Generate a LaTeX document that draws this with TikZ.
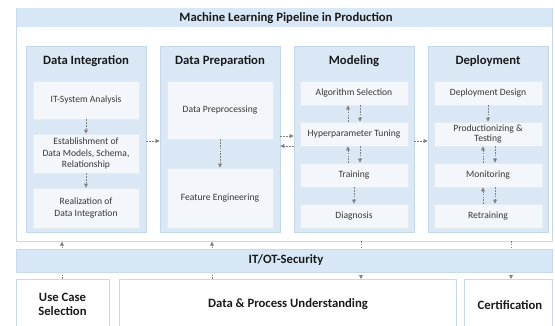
\documentclass[tikz,border=0pt]{standalone}
\usepackage{fontspec}
\setmainfont{Carlito}
\usetikzlibrary{arrows.meta}
\definecolor{bandfill}{HTML}{D8E7F5}
\definecolor{bandline}{HTML}{C6DAEE}
\definecolor{colfill}{HTML}{DAE8F5}
\definecolor{colline}{HTML}{C4D8EC}
\definecolor{cellfill}{HTML}{F3F6FA}
\definecolor{cellline}{HTML}{E2EAF3}
\definecolor{arrowgrey}{HTML}{808080}
\definecolor{headtext}{HTML}{1A1A1A}
\definecolor{celltext}{HTML}{383838}
\tikzset{
  box/.style={draw=bandline, line width=0.9pt, fill=white, inner sep=0pt},
  band/.style={draw=bandline, line width=0.6pt, fill=bandfill, inner sep=0pt},
  column/.style={draw=colline, line width=0.9pt, fill=colfill, inner sep=0pt, minimum width=120pt, minimum height=186pt},
  cell/.style={draw=cellline, line width=0.6pt, fill=cellfill, inner sep=1pt, align=center,
    font=\fontsize{9.6}{11.5}\selectfont, text=celltext},
  head/.style={font=\fontsize{12.7}{15}\selectfont\bfseries, text=headtext, align=center},
  flow/.style={draw=arrowgrey, line width=0.65pt, dash pattern=on 1.6pt off 1.2pt,
    -{Triangle[length=4pt,width=3.8pt]}},
  link/.style={draw=arrowgrey, line width=0.65pt, dash pattern=on 1.6pt off 1.2pt}
}
\begin{document}
\begin{tikzpicture}[x=1pt,y=-1pt]
\useasboundingbox (0,0) rectangle (555,325);

% outer frame with title strip
\node[box, minimum width=536pt, minimum height=233pt] (frame) at (284,124.5) {};
\node[band, draw=none, minimum width=535pt, minimum height=19pt] (titleband) at (284,17.5) {};
\node[head] (title) at (286,17.8) {Machine Learning Pipeline in Production};

% bottom boxes
\node[box, minimum width=93pt, minimum height=70pt, anchor=north] (usecase) at (62.5,279) {};
\node[box, minimum width=337pt, minimum height=70pt, anchor=north] (dataproc) at (287.5,279) {};
\node[box, minimum width=88pt, minimum height=70pt, anchor=north] (cert) at (508,279) {};
\node[head] at (62.5,304.5) {Use Case\\[-0.5pt]Selection};
\node[head] at (288,304.5) {Data \& Process Understanding};
\node[head] at (510,305) {Certification};

% links between the pipeline and the foundation boxes
\coordinate (ucTop) at (62,279);
\coordinate (ucUp) at (62,241.5);
\coordinate (dpTop) at (212,279);
\coordinate (dpUp) at (212,241.5);
\coordinate (moDown) at (361,241);
\coordinate (moBot) at (361,279);
\coordinate (deDown) at (511,241);
\coordinate (deBot) at (511,279);
\draw[flow] (ucTop) -- (ucUp);
\draw[flow] (dpTop) -- (dpUp);
\draw[flow] (moDown) -- (moBot);
\draw[flow] (deDown) -- (deBot);

% security band
\node[band, minimum width=536pt, minimum height=23pt] (security) at (284,260.5) {};
\node[head] at (286,260.5) {IT/OT-Security};

% phase columns
\node[column] (colDI) at (86,139) {};
\node[column] (colDP) at (220,139) {};
\node[column] (colMO) at (354,139) {};
\node[column] (colDE) at (488,139) {};
\node[head] at (86,61) {Data Integration};
\node[head] at (220,61) {Data Preparation};
\node[head] at (354,61) {Modeling};
\node[head] at (488,61) {Deployment};

% Data Integration
\node[cell, minimum width=106pt, minimum height=38pt] (itsys) at (86,100) {IT-System Analysis};
\node[cell, minimum width=106pt, minimum height=39pt] (estab) at (86,153.5) {Establishment of\\Data Models, Schema,\\Relationship};
\node[cell, minimum width=106pt, minimum height=40pt] (realiz) at (86,208) {Realization of\\Data Integration};

% Data Preparation
\node[cell, minimum width=106pt, minimum height=58pt] (prepro) at (220,110) {Data Preprocessing};
\node[cell, minimum width=106pt, minimum height=60pt] (feature) at (220,198) {Feature Engineering};

% Modeling
\node[cell, minimum width=108pt, minimum height=24pt] (algo) at (354,93) {Algorithm Selection};
\node[cell, minimum width=108pt, minimum height=24pt] (hyper) at (354,134) {Hyperparameter Tuning};
\node[cell, minimum width=108pt, minimum height=24pt] (train) at (354,175) {Training};
\node[cell, minimum width=108pt, minimum height=24pt] (diag) at (354,216) {Diagnosis};

% Deployment
\node[cell, minimum width=108pt, minimum height=24pt] (design) at (488,93) {Deployment Design};
\node[cell, minimum width=108pt, minimum height=24pt] (product) at (488,134) {Productionizing \&\\[-1pt]Testing};
\node[cell, minimum width=108pt, minimum height=24pt] (monitor) at (488,175) {Monitoring};
\node[cell, minimum width=108pt, minimum height=24pt] (retrain) at (488,216) {Retraining};

% flow inside the columns
\draw[flow] (itsys) -- (estab);
\draw[flow] (estab) -- (realiz);
\draw[flow] (prepro) -- (feature);
\draw[flow] ([xshift=-6pt]hyper.north) -- ([xshift=-6pt]algo.south);
\draw[flow] ([xshift=6pt]algo.south) -- ([xshift=6pt]hyper.north);
\draw[flow] ([xshift=-6pt]train.north) -- ([xshift=-6pt]hyper.south);
\draw[flow] ([xshift=6pt]hyper.south) -- ([xshift=6pt]train.north);
\draw[flow] (train) -- (diag);
\draw[flow] (design) -- (product);
\draw[flow] ([xshift=-5pt]monitor.north) -- ([xshift=-5pt]product.south);
\draw[flow] ([xshift=7pt]product.south) -- ([xshift=7pt]monitor.north);
\draw[flow] ([xshift=-5pt]retrain.north) -- ([xshift=-5pt]monitor.south);
\draw[flow] ([xshift=7pt]monitor.south) -- ([xshift=7pt]retrain.north);

% flow between the columns
\draw[flow] (colDI.east |- 0,141) -- (colDP.west |- 0,141);
\draw[flow] (colDP.east |- 0,136) -- (colMO.west |- 0,136);
\draw[flow] (colMO.west |- 0,146) -- (colDP.east |- 0,146);
\draw[flow] (colMO.east |- 0,141) -- (colDE.west |- 0,141);
\end{tikzpicture}
\end{document}
